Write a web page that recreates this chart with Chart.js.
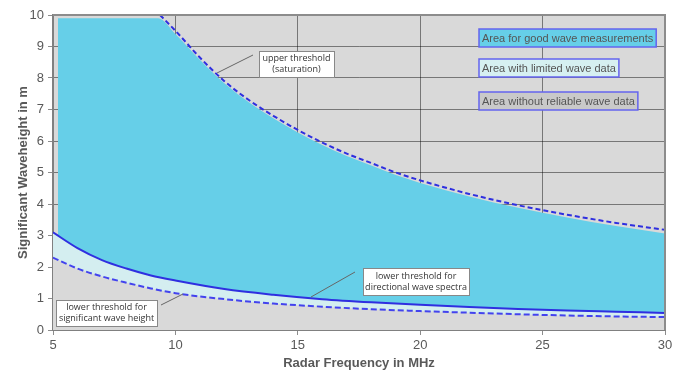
<!DOCTYPE html>
<html>
<head>
<meta charset="utf-8">
<script src="https://cdn.jsdelivr.net/npm/chart.js@4"></script>
<style>
    html, body { margin: 0; padding: 0; background: #fff; }
    #wrap { width: 681px; height: 374px; }
</style>
</head>
<body>
<div id="wrap"><canvas id="chart" width="681" height="374"></canvas></div>
<script>
// ---- data ----
const freqUpper   = [9.37, 10, 11, 12, 13, 14, 15, 16, 17, 18, 19, 20, 22, 24, 26, 28, 30];
const upperLimit  = [10, 9.5, 8.65, 7.9, 7.3, 6.8, 6.35, 5.95, 5.6, 5.3, 5.0, 4.75, 4.32, 3.96, 3.66, 3.4, 3.18];

const freqGood    = [5.2, 9.3, 10, 11, 12, 13, 14, 15, 16, 17, 18, 19, 20, 22, 24, 26, 28, 30];
const goodTop     = [9.9, 9.9, 9.4, 8.58, 7.83, 7.23, 6.72, 6.27, 5.87, 5.52, 5.22, 4.92, 4.67, 4.24, 3.88, 3.57, 3.3, 3.06];

const freqLower   = [5, 6, 7, 8, 9, 10, 12, 14, 16, 18, 20, 22, 24, 26, 28, 30];
const directional = [3.1, 2.6, 2.22, 1.95, 1.73, 1.57, 1.3, 1.12, 0.98, 0.88, 0.8, 0.73, 0.67, 0.62, 0.58, 0.54];
const sigWave     = [2.3, 1.95, 1.7, 1.5, 1.32, 1.17, 0.98, 0.84, 0.74, 0.66, 0.6, 0.55, 0.5, 0.46, 0.43, 0.41];

const xTicks = [5, 10, 15, 20, 25, 30];
const yTicks = [0, 1, 2, 3, 4, 5, 6, 7, 8, 9, 10];

const legendItems = [
    { text: 'Area for good wave measurements', fill: '#66cfe8' },
    { text: 'Area with limited wave data', fill: '#d6f0f1' },
    { text: 'Area without reliable wave data', fill: '#c9c9c9' }
];

const pts = (xs, ys) => xs.map((x, i) => ({ x: x, y: ys[i] }));

const BLUE = '#66cfe8';
const LIGHT = '#d4eef0';
const GRAY = '#d9d9d9';
const LINE = '#2f2fe0';

// gray plot background + frame
const bgPlugin = {
    id: 'bg',
    beforeDraw(chart) {
        const { ctx, chartArea: a } = chart;
        ctx.save();
        ctx.fillStyle = GRAY;
        ctx.fillRect(a.left, a.top, a.right - a.left, a.bottom - a.top);
        ctx.restore();
    },
    afterDatasetsDraw(chart) {
        const { ctx, chartArea: a } = chart;
        ctx.save();
        ctx.strokeStyle = '#8c8c8c';
        ctx.lineWidth = 2;
        ctx.beginPath();
        ctx.moveTo(a.left, a.top);
        ctx.lineTo(a.right, a.top);
        ctx.lineTo(a.right, a.bottom);
        ctx.stroke();
        ctx.restore();
    }
};

// legend boxes and callout labels
const notesPlugin = {
    id: 'notes',
    afterDraw(chart) {
        const ctx = chart.ctx;
        ctx.save();

        // legend (top right)
        ctx.font = '11px "Liberation Sans", Arial, sans-serif';
        ctx.textBaseline = 'middle';
        const lx = 479, ly = [38, 68, 101];
        legendItems.forEach((it, i) => {
            const w = ctx.measureText(it.text).width + 6;
            ctx.fillStyle = it.fill;
            ctx.fillRect(lx, ly[i] - 9, w, 18);
            ctx.strokeStyle = '#6464ee';
            ctx.lineWidth = 1.5;
            ctx.strokeRect(lx, ly[i] - 9, w, 18);
            ctx.fillStyle = '#555';
            ctx.fillText(it.text, lx + 3, ly[i] + 1);
        });

        // callouts
        const callouts = [
            { box: [259, 51, 75, 26], lines: ['upper threshold', '(saturation)'], lead: [217, 73, 253, 55] },
            { box: [363, 268, 106, 27], lines: ['lower threshold for', 'directional wave spectra'], lead: [311, 297, 355, 272] },
            { box: [56, 300, 101, 26], lines: ['lower threshold for', 'significant wave height'], lead: [161, 305, 183, 294] }
        ];
        ctx.font = '9px "Open Sans", "Noto Sans", sans-serif';
        ctx.textAlign = 'center';
        callouts.forEach(c => {
            ctx.strokeStyle = '#666';
            ctx.lineWidth = 1;
            ctx.beginPath();
            ctx.moveTo(c.lead[0], c.lead[1]);
            ctx.lineTo(c.lead[2], c.lead[3]);
            ctx.stroke();
            const [bx, by, bw, bh] = c.box;
            ctx.fillStyle = '#fff';
            ctx.fillRect(bx, by, bw, bh);
            ctx.strokeStyle = '#888';
            ctx.strokeRect(bx + 0.5, by + 0.5, bw, bh);
            ctx.fillStyle = '#333';
            ctx.fillText(c.lines[0], bx + bw / 2, by + bh * 0.3);
            ctx.fillText(c.lines[1], bx + bw / 2, by + bh * 0.72);
        });
        ctx.restore();
    }
};

const ctx = document.getElementById('chart');

new Chart(ctx, {
    type: 'line',
    data: {
        datasets: [
            {
                label: 'upper threshold',
                data: pts(freqUpper, upperLimit),
                borderColor: LINE,
                borderWidth: 2,
                borderDash: [5, 3],
                pointRadius: 0,
                fill: false,
                cubicInterpolationMode: 'monotone',
                order: 0
            },
            {
                label: 'lower threshold sig. wave height',
                data: pts(freqLower, sigWave),
                borderColor: '#4343ee',
                borderWidth: 2,
                borderDash: [6, 3],
                pointRadius: 0,
                fill: { target: 'origin', above: GRAY },
                backgroundColor: GRAY,
                cubicInterpolationMode: 'monotone',
                order: 1
            },
            {
                label: 'lower threshold directional',
                data: pts(freqLower, directional),
                borderColor: LINE,
                borderWidth: 2,
                pointRadius: 0,
                fill: { target: 'origin', above: LIGHT },
                backgroundColor: LIGHT,
                cubicInterpolationMode: 'monotone',
                order: 2
            },
            {
                label: 'good area',
                data: pts(freqGood, goodTop),
                borderWidth: 0,
                borderColor: 'rgba(0,0,0,0)',
                pointRadius: 0,
                fill: { target: 'origin', above: BLUE },
                backgroundColor: BLUE,
                cubicInterpolationMode: 'monotone',
                order: 3
            }
        ]
    },
    options: {
        responsive: false,
        animation: false,
        layout: { padding: { left: 10, top: 15, right: 16, bottom: 0 } },
        plugins: {
            legend: { display: false },
            tooltip: { enabled: false }
        },
        scales: {
            x: {
                type: 'linear',
                min: 5,
                max: 30,
                z: 1,
                afterBuildTicks: s => { s.ticks = xTicks.map(v => ({ value: v })); },
                afterFit: s => { s.height = 44; },
                ticks: { color: '#595959', font: { size: 13, family: '"Liberation Sans", Arial' }, padding: 3, maxRotation: 0 },
                grid: { color: 'rgba(0,0,0,0.45)', lineWidth: 1, tickLength: 5 },
                border: { display: true, color: '#808080', width: 2 },
                title: {
                    display: true,
                    text: 'Radar Frequency in MHz',
                    color: '#595959',
                    font: { size: 13, weight: 'bold', family: '"Liberation Sans", Arial' },
                    padding: { top: 0, bottom: 3 }
                }
            },
            y: {
                type: 'linear',
                min: 0,
                max: 10,
                z: 1,
                afterBuildTicks: s => { s.ticks = yTicks.map(v => ({ value: v })); },
                afterFit: s => { s.width = 43; },
                ticks: { color: '#595959', font: { size: 13, family: '"Liberation Sans", Arial' }, padding: 4 },
                grid: { color: 'rgba(0,0,0,0.45)', lineWidth: 1, tickLength: 5 },
                border: { display: true, color: '#808080', width: 2 },
                title: {
                    display: true,
                    text: 'Significant Waveheight in m',
                    color: '#595959',
                    font: { size: 13, weight: 'bold', family: '"Liberation Sans", Arial' },
                    padding: { top: 6, bottom: 0 }
                }
            }
        }
    },
    plugins: [bgPlugin, notesPlugin]
});
</script>
</body>
</html>
